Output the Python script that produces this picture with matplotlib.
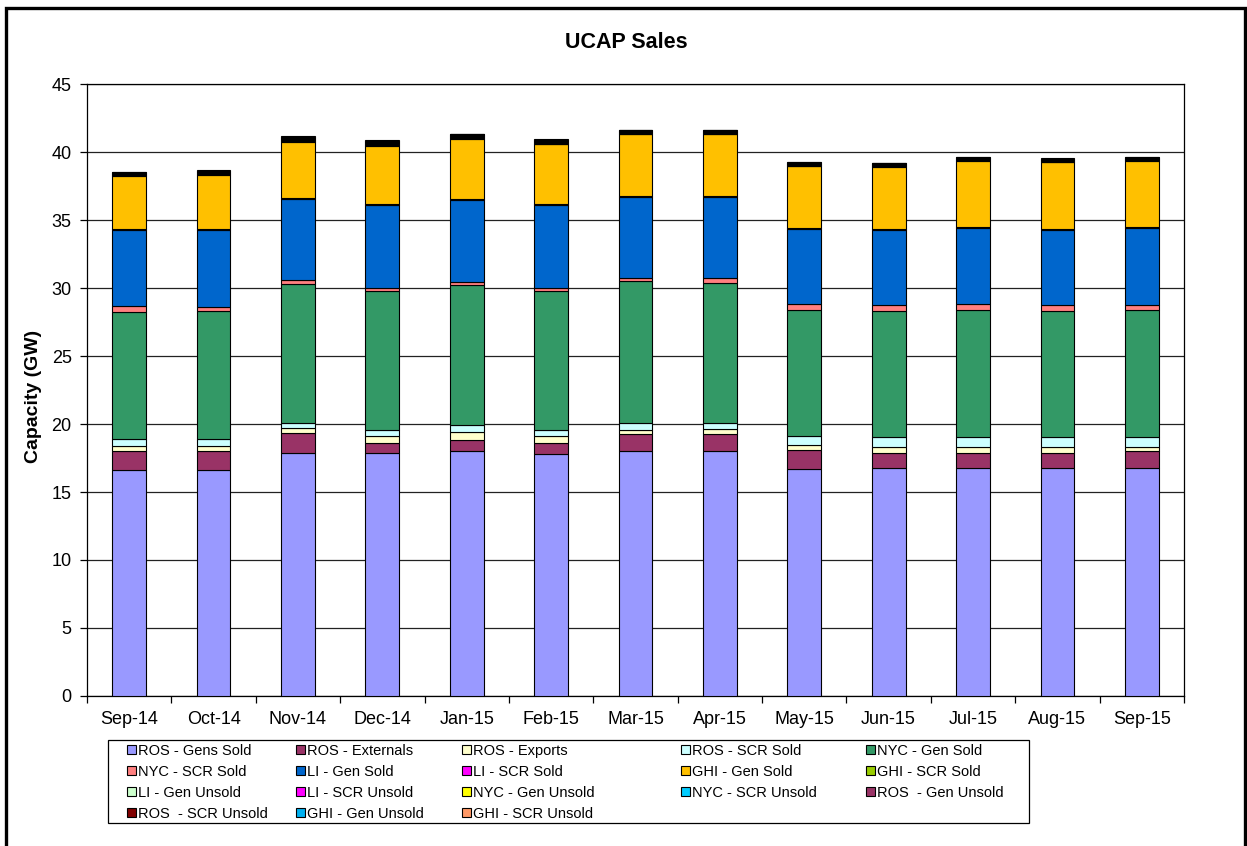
import matplotlib
matplotlib.use("Agg")
import matplotlib.pyplot as plt
from matplotlib.patches import Patch, Rectangle
import numpy as np

plt.rcParams["font.family"] = ["Liberation Sans", "DejaVu Sans"]

months = ["Sep-14", "Oct-14", "Nov-14", "Dec-14", "Jan-15", "Feb-15", "Mar-15",
          "Apr-15", "May-15", "Jun-15", "Jul-15", "Aug-15", "Sep-15"]

# Capacity by component (GW), stacked bottom to top
ros_gens_sold = [16.60, 16.60, 17.90, 17.90, 18.02, 17.78, 18.00, 18.00, 16.67, 16.77, 16.77, 16.77, 16.77]
ros_externals = [1.42, 1.42, 1.45, 0.67, 0.79, 0.79, 1.23, 1.25, 1.40, 1.13, 1.13, 1.13, 1.23]
ros_exports = [0.35, 0.38, 0.32, 0.56, 0.61, 0.56, 0.32, 0.40, 0.37, 0.42, 0.42, 0.42, 0.32]
ros_scr_sold = [0.56, 0.53, 0.37, 0.42, 0.50, 0.42, 0.49, 0.39, 0.69, 0.74, 0.74, 0.74, 0.74]
nyc_gen_sold = [9.27, 9.37, 10.28, 10.23, 10.28, 10.23, 10.45, 10.35, 9.22, 9.22, 9.32, 9.22, 9.34]
nyc_scr_sold = [0.45, 0.30, 0.24, 0.24, 0.24, 0.24, 0.24, 0.34, 0.47, 0.44, 0.44, 0.44, 0.32]
li_gen_sold = [5.63, 5.68, 6.01, 6.06, 6.00, 6.06, 5.96, 5.96, 5.53, 5.56, 5.56, 5.56, 5.66]
li_scr_sold = [0.07, 0.07, 0.07, 0.07, 0.07, 0.07, 0.07, 0.07, 0.07, 0.07, 0.07, 0.07, 0.07]
ghi_gen_sold = [3.89, 3.96, 4.13, 4.31, 4.47, 4.42, 4.55, 4.55, 4.53, 4.57, 4.90, 4.89, 4.90]
ghi_scr_sold = [0.04] * 13
li_gen_unsold = [0.04] * 13
li_scr_unsold = [0.03] * 13
nyc_gen_unsold = [0.04] * 13
nyc_scr_unsold = [0.03] * 13
ros_gen_unsold = [0.02, 0.06, 0.09, 0.12, 0.09, 0.09, 0.06, 0.06, 0.05, 0.02, 0.02, 0.01, 0.02]
ros_scr_unsold = [0.04] * 13
ghi_gen_unsold = [0.03] * 13
ghi_scr_unsold = [0.03] * 13

series = [
    ("ROS - Gens Sold", ros_gens_sold, "#9999FF"),
    ("ROS - Externals", ros_externals, "#993366"),
    ("ROS - Exports", ros_exports, "#FFFFCC"),
    ("ROS - SCR Sold", ros_scr_sold, "#CCFFFF"),
    ("NYC - Gen Sold", nyc_gen_sold, "#339966"),
    ("NYC - SCR Sold", nyc_scr_sold, "#FF8080"),
    ("LI - Gen Sold", li_gen_sold, "#0066CC"),
    ("LI - SCR Sold", li_scr_sold, "#FF00FF"),
    ("GHI - Gen Sold", ghi_gen_sold, "#FFC000"),
    ("GHI - SCR Sold", ghi_scr_sold, "#99CC00"),
    ("LI - Gen Unsold", li_gen_unsold, "#CCFFCC"),
    ("LI - SCR Unsold", li_scr_unsold, "#FF00FF"),
    ("NYC - Gen Unsold", nyc_gen_unsold, "#FFFF00"),
    ("NYC - SCR Unsold", nyc_scr_unsold, "#00CCFF"),
    ("ROS  - Gen Unsold", ros_gen_unsold, "#993366"),
    ("ROS  - SCR Unsold", ros_scr_unsold, "#800000"),
    ("GHI - Gen Unsold", ghi_gen_unsold, "#00B0F0"),
    ("GHI - SCR Unsold", ghi_scr_unsold, "#FF9966"),
]

W, H = 1247, 846
fig = plt.figure(figsize=(W / 100, H / 100), dpi=100)
ax = fig.add_axes([87 / W, 1 - 696 / H, (1184 - 87) / W, (696 - 84) / H])

x = np.arange(len(months))
bottom = np.zeros(len(months))
for name, vals, color in series:
    v = np.array(vals, dtype=float)
    ax.bar(x, v, width=0.40, bottom=bottom, color=color, edgecolor="black",
           linewidth=0.8, label=name, zorder=3)
    bottom += v

ax.set_xlim(-0.5, len(months) - 0.5)
ax.set_ylim(0, 45)
ax.set_yticks(np.arange(0, 46, 5))
ax.yaxis.grid(True, color="#222222", linewidth=0.9)
ax.set_axisbelow(True)

ax.set_xticks(x)
ax.set_xticklabels(months)
ax.set_xticks(np.arange(-0.5, len(months), 1.0), minor=True)
ax.tick_params(axis="x", which="major", length=0, pad=11, labelsize=13)
ax.tick_params(axis="x", which="minor", length=5, width=0.9, direction="out")
ax.tick_params(axis="y", length=5, width=0.9, direction="out", labelsize=13, pad=6)
for s in ax.spines.values():
    s.set_color("black")
    s.set_linewidth(0.9)

ax.set_ylabel("Capacity (GW)", fontsize=14, fontweight="bold")
ax.yaxis.set_label_coords(-0.041, 0.49)
fig.text(0.502, 1 - 42 / H, "UCAP Sales", ha="center", va="center",
         fontsize=15.5, fontweight="bold")

# Legend: five columns, entries read row by row
handles = [Patch(facecolor=c, edgecolor="black", linewidth=0.8) for _, _, c in series]
labels = [n for n, _, _ in series]
ncol = 5
col_x = [127, 296, 462, 681, 866]
for c in range(ncol):
    idx = [r * ncol + c for r in range(4) if r * ncol + c < len(series)]
    leg = fig.legend([handles[i] for i in idx], [labels[i] for i in idx],
                     loc="upper left", bbox_to_anchor=(col_x[c] / W, 1 - 744 / H),
                     fontsize=10.5, frameon=False, borderpad=0, borderaxespad=0,
                     handlelength=0.6, handleheight=0.6, handletextpad=0.15,
                     labelspacing=0.47)

fig.patches.append(Rectangle((108 / W, 1 - 823 / H), (1029 - 108) / W, (823 - 740) / H,
                             transform=fig.transFigure, fill=False,
                             edgecolor="black", linewidth=0.9))

# Outer chart border
fig.patches.append(Rectangle((6 / W, -0.02), (1245 - 6) / W, 1.02 - 8 / H,
                             transform=fig.transFigure, fill=False,
                             edgecolor="black", linewidth=2.4))

fig.savefig("out.png", dpi=100)
